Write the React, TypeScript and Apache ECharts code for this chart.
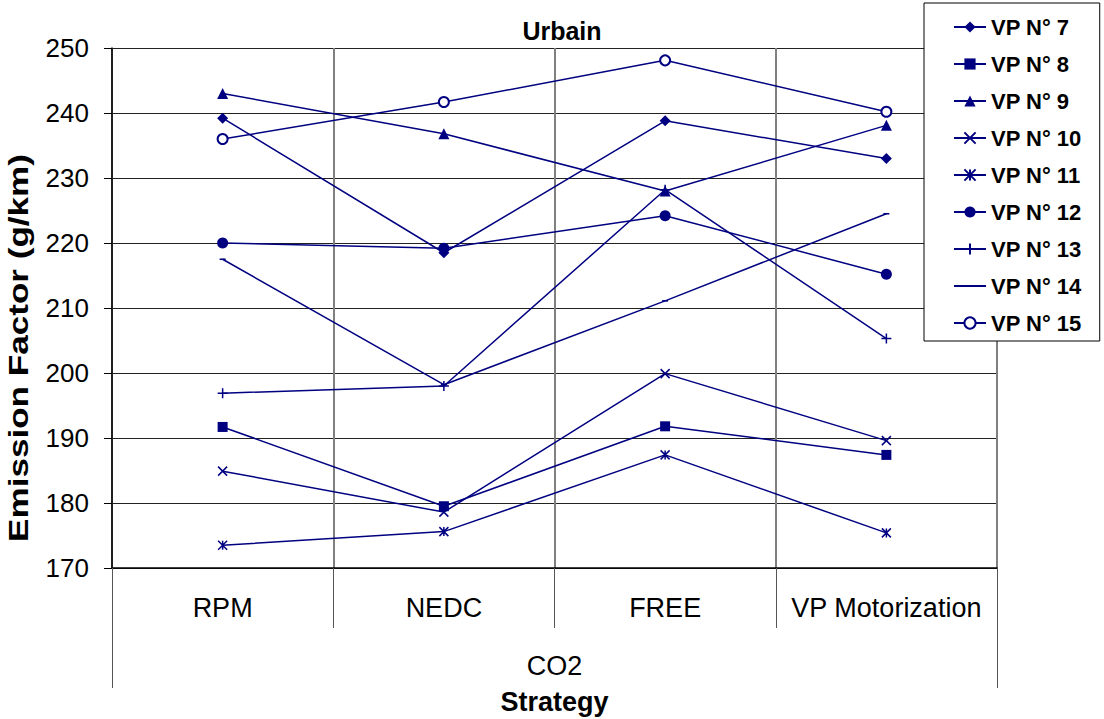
import React, { useEffect, useRef } from "react";
import * as echarts from "echarts";

const categories = ["RPM", "NEDC", "FREE", "VP Motorization"];
const groupLabels = ["CO2"];
const seriesNames = ["VP N° 7", "VP N° 8", "VP N° 9", "VP N° 10", "VP N° 11", "VP N° 12", "VP N° 13", "VP N° 14", "VP N° 15"];
const vp7 = [239.2, 218.5, 238.8, 233.0];
const vp8 = [191.7, 179.5, 191.8, 187.4];
const vp9 = [243.0, 236.8, 228.0, 238.1];
const vp10 = [184.9, 178.6, 199.9, 189.6];
const vp11 = [173.5, 175.6, 187.4, 175.4];
const vp12 = [220.0, 219.2, 224.2, 215.2];
const vp13 = [196.9, 198.0, 228.2, 205.3];
const vp14 = [217.5, 198.2, 211.1, 224.5];
const vp15 = [236.0, 241.7, 248.1, 240.2];
const seriesValues = [vp7, vp8, vp9, vp10, vp11, vp12, vp13, vp14, vp15];
const yAxisTitle = "Emission Factor (g/km)";
const xAxisTitle = "Strategy";
const chartTitle = "Urbain";

const NAVY = "#000080";
const FONT = "Liberation Sans, Arial, sans-serif";

const symbols: any[] = [
  { symbol: "diamond", size: 11 },
  { symbol: "rect", size: 10 },
  { symbol: "triangle", size: 11 },
  { symbol: "path://M0,0L10,10M10,0L0,10", size: 9, stroke: true },
  { symbol: "path://M0,0L10,10M10,0L0,10M5,0L5,10", size: 9, stroke: true },
  { symbol: "circle", size: 11 },
  { symbol: "path://M5,0L5,10M0,5L10,5", size: 10, stroke: true },
  { symbol: "path://M0,0M10,10M2,4.2L8,4.2L8,5.8L2,5.8Z", size: 10 },
  { symbol: "emptyCircle", size: 10, empty: true },
];

export default function App() {
  const ref = useRef<HTMLDivElement>(null);
  useEffect(() => {
    document.body.style.margin = "0";
    const chart = echarts.init(ref.current!, null, { renderer: "svg" });
    const series = seriesNames.map((name, i) => {
      const s = symbols[i];
      return {
        name,
        type: "line",
        xAxisIndex: 0,
        data: seriesValues[i],
        symbol: s.symbol,
        symbolSize: s.size,
        showAllSymbol: true,
        lineStyle: { color: NAVY, width: 1.5 },
        itemStyle: s.stroke
          ? { color: NAVY, borderColor: NAVY, borderWidth: 1.5 }
          : s.empty
          ? { color: NAVY, borderWidth: 1.5 }
          : { color: NAVY, borderColor: NAVY, borderWidth: 0 },
        emphasis: { disabled: true },
        z: 3,
      };
    });
    chart.setOption({
      animation: false,
      textStyle: { fontFamily: FONT },
      title: {
        text: chartTitle,
        left: 557,
        textAlign: "center",
        top: 13,
        textStyle: { fontFamily: FONT, fontSize: 25, fontWeight: "bold", color: "#000" },
      },
      legend: {
        orient: "vertical",
        left: 924,
        top: 3,
        padding: [13, 18, 7, 29],
        itemGap: 15,
        itemWidth: 32,
        itemHeight: 14,
        backgroundColor: "#fff",
        borderColor: "#000",
        borderWidth: 1,
        borderRadius: 0,
        textStyle: { fontFamily: FONT, fontSize: 22, lineHeight: 22, fontWeight: "bold", color: "#000" },
        data: seriesNames,
      },
      graphic: [
        {
          type: "text",
          x: 19,
          y: 348,
          rotation: Math.PI / 2,
          scaleX: 1.3,
          style: {
            text: yAxisTitle,
            fontFamily: FONT,
            fontSize: 27,
            fontWeight: "bold",
            fill: "#000",
            textAlign: "center",
            textVerticalAlign: "middle",
          },
        },
      ],
      grid: { left: 112, right: 107, top: 48, bottom: 151, containLabel: false, outerBoundsMode: "none" },
      xAxis: [
        {
          type: "category",
          data: categories,
          position: "bottom",
          boundaryGap: true,
          axisLine: { show: true, lineStyle: { color: "#000", width: 1.5 } },
          axisTick: { show: true, interval: 0, length: 60, lineStyle: { color: "#555", width: 1 } },
          axisLabel: { interval: 0, hideOverlap: false, fontFamily: FONT, fontSize: 27, color: "#000", margin: 26 },
          splitLine: { show: true, interval: 0, lineStyle: { color: "#808080", width: 2 } },
        },
        {
          type: "category",
          data: groupLabels,
          position: "bottom",
          offset: 60,
          boundaryGap: true,
          axisLine: { show: false },
          axisTick: { show: true, interval: 0, length: 60, lineStyle: { color: "#555", width: 1 } },
          axisLabel: { interval: 0, fontFamily: FONT, fontSize: 27, color: "#000", margin: 24 },
          splitLine: { show: false },
          name: xAxisTitle,
          nameLocation: "middle",
          nameGap: 60,
          nameTextStyle: { fontFamily: FONT, fontSize: 27, fontWeight: "bold", color: "#000" },
        },
      ],
      yAxis: {
        type: "value",
        min: 170,
        max: 250,
        interval: 10,
        axisLine: { show: true, lineStyle: { color: "#000", width: 1.5 } },
        axisTick: { show: true, length: 8, lineStyle: { color: "#000" } },
        axisLabel: { fontFamily: FONT, fontSize: 26, color: "#000", margin: 23 },
        splitLine: { show: true, lineStyle: { color: "#222", width: 1 } },
      },
      series,
    });
    return () => chart.dispose();
  }, []);
  return <div ref={ref} style={{ width: 1104, height: 719 }} />;
}
